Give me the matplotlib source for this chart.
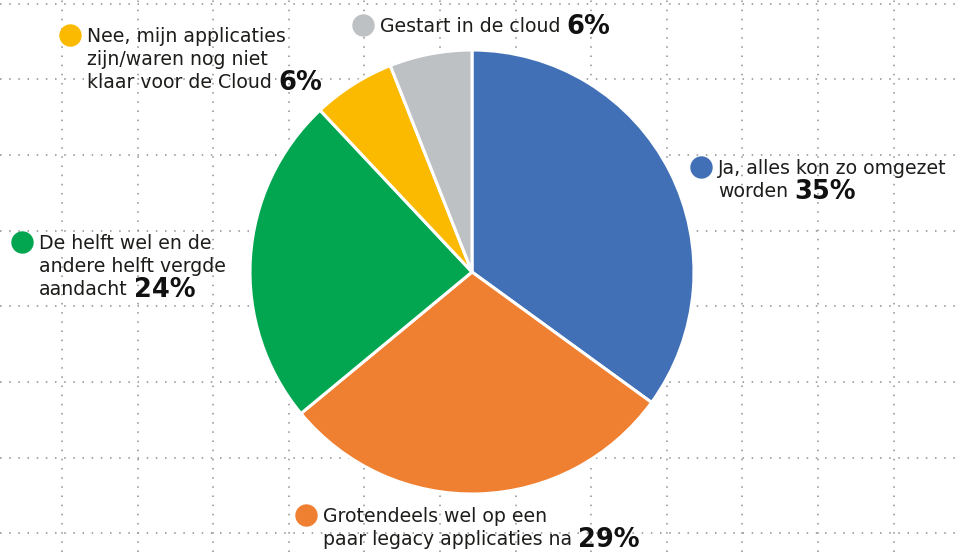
import matplotlib
matplotlib.use('Agg')
import matplotlib.pyplot as plt
import numpy as np

# Data (clockwise from 12 o'clock)
labels = [
    'Ja, alles kon zo omgezet\nworden',
    'Grotendeels wel op een\npaar legacy applicaties na',
    'De helft wel en de\nandere helft vergde\naandacht',
    'Nee, mijn applicaties\nzijn/waren nog niet\nklaar voor de Cloud',
    'Gestart in de cloud',
]
shares = [35, 29, 24, 6, 6]
colors = ['#4170B6', '#EF8031', '#02A651', '#FBBA00', '#BEC1C4']

# legend marker position (pixels from top-left) for each label
label_pos = [(701, 167), (306, 515), (22, 242), (70, 35), (363, 25)]

W, H = 955, 552
plt.rcParams['font.family'] = ['DejaVu Sans']
fig = plt.figure(figsize=(W / 100, H / 100), dpi=100)
ax = fig.add_axes([0, 0, 1, 1])

# dotted background grid
for gx in np.arange(62, W, 75.6):
    ax.axvline(gx, color='#8f8f8f', lw=1.1, ls=(0, (1, 5)), zorder=0)
for gy in np.arange(3.5, H, 75.7):
    ax.axhline(H - gy, color='#8f8f8f', lw=1.1, ls=(0, (1, 5)), zorder=0)

ax.pie(shares, colors=colors, startangle=90, counterclock=False,
       center=(472, H - 272), radius=222,
       wedgeprops=dict(edgecolor='white', linewidth=2.2), frame=True)

ax.set_xlim(0, W)
ax.set_ylim(0, H)
ax.set_aspect('equal')
ax.axis('off')

fs = 13.6
last_lines = []
for txt, pct, col, (mx, my) in zip(labels, shares, colors, label_pos):
    ax.scatter([mx], [H - my], s=260, color=col, zorder=3, linewidths=0)
    lines = txt.split('\n')
    for i, ln in enumerate(lines):
        base = H - (my + 7 + i * 23)
        t = ax.text(mx + 17, base, ln, fontsize=fs, color='#1d1d1b',
                    va='baseline', ha='left', zorder=4)
    last_lines.append((t, base, pct))

fig.canvas.draw()
for t, base, pct in last_lines:
    bb = t.get_window_extent()
    ax.text(bb.x1 + 6, base - 2, f'{pct}%', fontsize=18.5, fontweight='bold',
            color='#111111', va='baseline', ha='left', zorder=4)

fig.savefig('out.png', dpi=100)
